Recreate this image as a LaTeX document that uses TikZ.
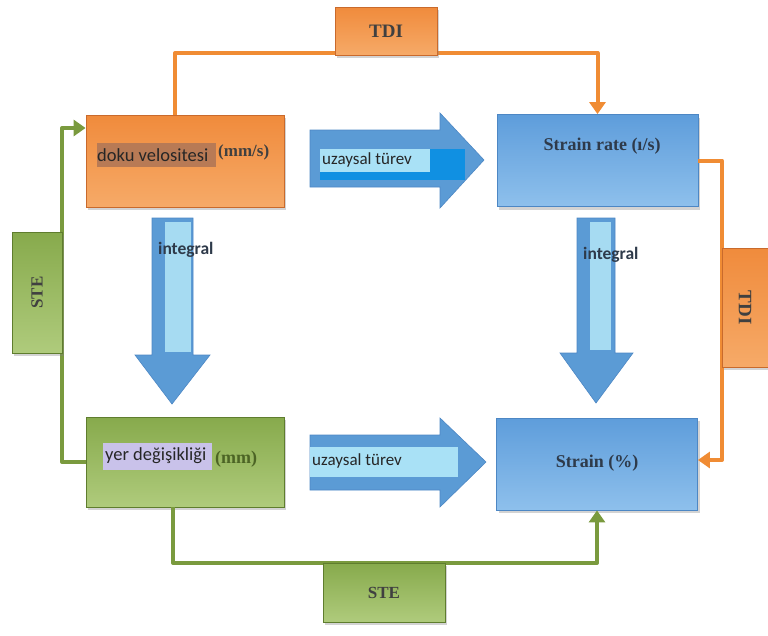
\documentclass[tikz,border=0pt]{standalone}
\usepackage{fontspec}
\setmainfont{Liberation Serif}
\newfontfamily\calib{Carlito}
\usetikzlibrary{arrows.meta,shadows}
\definecolor{orfill}{HTML}{F08B3C}
\definecolor{orlight}{HTML}{F6AA68}
\definecolor{orline}{HTML}{F08C34}
\definecolor{orborder}{HTML}{C96A2C}
\definecolor{blfill}{HTML}{5E9DDB}
\definecolor{bllight}{HTML}{8EC0EC}
\definecolor{blborder}{HTML}{4D87C4}
\definecolor{grfill}{HTML}{87AA4C}
\definecolor{grlight}{HTML}{AFCB7C}
\definecolor{grline}{HTML}{7A9A3E}
\definecolor{grborder}{HTML}{5F7D2E}
\definecolor{bigarrow}{HTML}{5B9BD5}
\definecolor{stripe}{HTML}{A6DBF2}
\definecolor{brightblue}{HTML}{1090E2}
\definecolor{labelcyan}{HTML}{A9E1F6}
\definecolor{darktext}{HTML}{2E3A4A}
\definecolor{brownhl}{HTML}{B87A55}
\definecolor{lavender}{HTML}{C9C2EA}
\tikzset{
  shad/.style={drop shadow={opacity=0.35,shadow xshift=2pt,shadow yshift=-3pt}},
  orbox/.style={shad,draw=orborder,line width=0.8pt,top color=orfill,bottom color=orlight,minimum width=#1,inner sep=0pt},
  blbox/.style={shad,draw=blborder,line width=0.8pt,top color=blfill,bottom color=bllight,minimum width=201pt,minimum height=92pt,inner sep=0pt},
  grbox/.style={shad,draw=grborder,line width=0.8pt,top color=grfill,bottom color=grlight,inner sep=0pt},
  oconn/.style={draw=orline,line width=4pt,line join=round},
  gconn/.style={draw=grline,line width=4pt,line join=round},
  bigarr/.style={fill=bigarrow,draw=blborder,line width=0.6pt},
  serifb/.style={font=\fontsize{18}{20}\selectfont\bfseries,text=darktext},
  calt/.style={font=\calib\fontsize{18.5}{20}\selectfont,text=black!85},
  uzt/.style={font=\calib\fontsize{17}{19}\selectfont,text=black!85},
  intt/.style={font=\calib\fontsize{17.5}{19}\selectfont\bfseries,text=darktext},
  lblt/.style={font=\fontsize{#1}{20}\selectfont\bfseries,text=black!75},
}
\begin{document}
\begin{tikzpicture}[x=1pt,y=-1pt]
\useasboundingbox (0,0) rectangle (768,635);
% main boxes
\node[orbox=198pt,minimum height=92pt] (doku) at (185,161) {};
\node[blbox] (srate) at (597.5,160.5) {};
\node[grbox,minimum width=198pt,minimum height=90pt] (yer) at (185,462) {};
\node[blbox] (strain) at (597,464) {};
% connectors
\coordinate (tdiTop) at (386,53);
\coordinate (tdiRight) at (722,300);
\coordinate (steLeft) at (62,300);
\coordinate (steBottom) at (386,563);
\draw[oconn] ([xshift=-10pt]doku.north) |- (tdiTop);
\draw[oconn,-{Triangle[width=16pt,length=12pt]}] (tdiTop) -| (srate.north);
\draw[oconn] (srate.east) -| (tdiRight);
\draw[oconn,-{Triangle[width=16pt,length=12pt]}] (tdiRight) |- ([yshift=4pt]strain.east);
\draw[gconn] (yer.west) -| (steLeft);
\draw[gconn,-{Triangle[width=16pt,length=12pt]}] (steLeft) |- ([yshift=33pt]doku.west);
\draw[gconn] ([xshift=-12pt]yer.south) |- (steBottom);
\draw[gconn,-{Triangle[width=16pt,length=12pt]}] (steBottom) -| (strain.south);
% label boxes on connectors
\node[orbox=102pt,minimum height=48pt,lblt=19] (tdi1) at (386,31) {TDI};
\node[orbox=46pt,minimum height=119pt] (tdi2) at (745,307.5) {};
\node[lblt=19,rotate=-90] (tdi2t) at (745,307.5) {TDI};
\node[grbox,minimum width=50pt,minimum height=121pt] (ste1) at (37,292.5) {};
\node[lblt=17,rotate=90] (ste1t) at (37,292.5) {STE};
\node[grbox,minimum width=122pt,minimum height=59pt,lblt=17] (ste2) at (384,592.5) {STE};
% big block arrows
\draw[bigarr] (310,130) -- (440,130) -- (440,113) -- (484,160) -- (440,208) -- (440,187) -- (310,187) -- cycle;
\fill[brightblue] (320,149) rectangle (465,180);
\fill[labelcyan] (320,149) rectangle (430,172);
\draw[bigarr] (310,435) -- (440,435) -- (440,418) -- (486,462) -- (440,507) -- (440,490) -- (310,490) -- cycle;
\fill[labelcyan] (310,447) rectangle (458,477);
\draw[bigarr] (152,218) -- (193,218) -- (193,355) -- (210,355) -- (172,404) -- (135,355) -- (152,355) -- cycle;
\fill[stripe] (165,222) rectangle (191,352);
\draw[bigarr] (577,218) -- (615,218) -- (615,353) -- (633,353) -- (596,403) -- (560,353) -- (577,353) -- cycle;
\fill[stripe] (590,222) rectangle (611,350);
% texts
\fill[brownhl] (97,143) rectangle (216,167);
\node[calt,anchor=west,inner sep=0pt] (dokut) at (97,155) {doku velositesi};
\node[serifb,anchor=west,inner sep=0pt,font=\fontsize{17}{19}\selectfont\bfseries,text=black!75] (dokuu) at (218,152) {(mm/s)};
\node[serifb,inner sep=0pt] (sratet) at (602,146) {Strain rate (ı/s)};
\fill[lavender] (103,443) rectangle (212,470);
\node[calt,anchor=west,inner sep=0pt] (yert) at (105,456) {yer değişikliği};
\node[serifb,anchor=west,inner sep=0pt,text=grborder!80!black] (yeru) at (215,459) {(mm)};
\node[serifb,inner sep=0pt] (straint) at (597,463) {Strain (\%)};
\node[uzt,anchor=west,inner sep=0pt] (uz1) at (322,160) {uzaysal türev};
\node[uzt,anchor=west,inner sep=0pt] (uz2) at (312,461) {uzaysal türev};
\node[intt,anchor=west,inner sep=0pt] (int1) at (158,250) {integral};
\node[intt,anchor=west,inner sep=0pt] (int2) at (583,255) {integral};
\end{tikzpicture}
\end{document}
